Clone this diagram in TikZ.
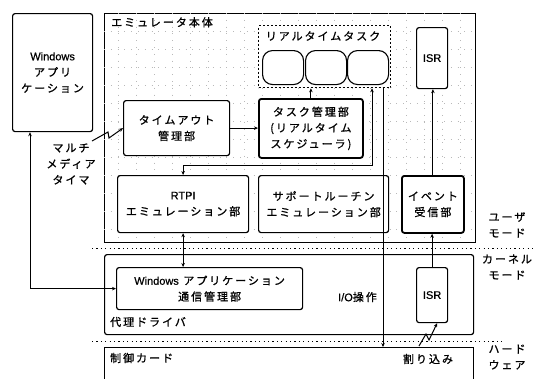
\documentclass[tikz,border=0pt]{standalone}
\usepackage{fontspec}
\setmainfont{Noto Sans CJK JP}[LetterSpace=18, FakeBold=1]
\newfontfamily\lat{Liberation Sans}[FakeBold=0.6]
\usetikzlibrary{arrows.meta}
\tikzset{
  box/.style={draw, line width=1.2pt, rounded corners=2.5pt, fill=white, align=center, anchor=north west, inner sep=1pt, font=\fontsize{11}{16}\selectfont},
  tbox/.style={box, line width=1.8pt},
  rt/.style={draw, line width=1.1pt, rounded corners=10pt, fill=white, anchor=north west, minimum width=41pt, minimum height=34pt},
  conn/.style={line width=0.9pt, -{Stealth[length=4pt,width=3.5pt]}},
  bconn/.style={line width=0.9pt, {Stealth[length=4pt,width=3.5pt]}-{Stealth[length=4pt,width=3.5pt]}},
  sep/.style={line width=1pt, dash pattern=on 1.2pt off 3.2pt},
  lbl/.style={align=center, font=\fontsize{11}{16}\selectfont, inner sep=0pt},
  gridl/.style={gray!55, line width=0.6pt, dash pattern=on 0.8pt off 6pt}
}
\begin{document}
\begin{tikzpicture}[x=1pt,y=-1pt]
\useasboundingbox (0,0) rectangle (534,378);
\clip (0,0) rectangle (534,378);
\fill[white] (0,0) rectangle (534,378);
% emulator main body
\node[draw, line width=1.1pt, anchor=north west, minimum width=371pt, minimum height=229pt, inner sep=0pt] (emu) at (104,13) {};
\begin{scope}
\clip (104,13) rectangle (475,242);
\foreach \yy in {31,49,67,85,103,121,139,157,175,193,211,229} \draw[gridl] (104,\yy) -- (475,\yy);
\foreach \xx in {118,136,154,172,190,208,226,244,262,280,298,316,334,352,370,388,406,424,442,460} \draw[gridl] (\xx,13) -- (\xx,242);
\end{scope}
\node[lbl, anchor=north west] (emulbl) at (111,17) {エミュレータ本体};
% windows application
\node[box, minimum width=80pt, minimum height=118pt] (winapp) at (12,13) {{\lat Windows}\\アプリ\\ケーション};
% real-time tasks
\node[draw, line width=1.3pt, dash pattern=on 2pt off 2pt, fill=white, anchor=north west, minimum width=132pt, minimum height=62pt, inner sep=0pt] (rttask) at (258,25) {};
\node[lbl] (rtlbl) at (323,36) {リアルタイムタスク};
\node[rt] (rt1) at (262,50) {};
\node[rt] (rt2) at (305,50) {};
\node[rt] (rt3) at (347,50) {};
% ISR top
\node[box, minimum width=31pt, minimum height=61pt] (isra) at (416,27) {\lat ISR};
% timeout
\node[box, minimum width=106pt, minimum height=55pt] (timeout) at (123,100) {タイムアウト\\管理部};
% task manager
\node[tbox, minimum width=104pt, minimum height=59pt] (taskmgr) at (258,98) {タスク管理部\\(リアルタイム\\スケジューラ)};
% lower boxes
\node[box, minimum width=131pt, minimum height=57pt] (rtpi) at (117,175) {{\lat RTPI}\\エミュレーション部};
\node[box, minimum width=130pt, minimum height=57pt] (support) at (258,175) {サポートルーチン\\エミュレーション部};
\node[tbox, minimum width=62pt, minimum height=57pt] (event) at (401,175) {イベント\\受信部};
% kernel
\node[draw, line width=1.2pt, rounded corners=2.5pt, anchor=north west, minimum width=369pt, minimum height=80pt, inner sep=0pt] (kernel) at (104,254) {};
\node[lbl, anchor=west] (proxy) at (110,322) {代理ドライバ};
\node[box, minimum width=186pt, minimum height=42pt] (comm) at (116,267) {{\lat Windows} アプリケーション\\通信管理部};
\node[box, minimum width=31pt, minimum height=55pt] (isrb) at (416,267) {\lat ISR};
% control card
\node[draw, line width=1.2pt, anchor=north west, minimum width=369pt, minimum height=60pt, inner sep=0pt] (card) at (104,347) {};
\node[lbl, anchor=west] (cardlbl) at (110,358) {制御カード};
% separators
\coordinate (s1a) at (92,248); \coordinate (s1b) at (534,248);
\coordinate (s2a) at (92,341); \coordinate (s2b) at (505,341);
\draw[sep] (s1a) -- (s1b);
\draw[sep] (s2a) -- (s2b);
% right labels
\node[lbl] (umode) at (507,225) {ユーザ\\モード};
\node[lbl] (kmode) at (507,267) {カーネル\\モード};
\node[lbl] (hw) at (507,357) {ハード\\ウェア};
% connectors
\draw[conn] (timeout.east) -- (timeout.east -| taskmgr.west);
\draw[conn] (taskmgr.north) -- (taskmgr.north |- rttask.south);
\coordinate (c1) at (372,165);
\draw[bconn] (rtpi.north) |- (c1) -- (c1 |- rttask.south);
\coordinate (io) at (383,0);
\draw[line width=0.9pt, -{Stealth[length=4pt,width=3.5pt]}] (io |- rttask.south) -- (io |- card.north);
\node[lbl, anchor=east] (iolbl) at (377,297) {{\lat I/O}操作};
\draw[conn] (event.north) -- (event.north |- isra.south);
\draw[conn] (isrb.north) -- (isrb.north |- event.south);
\draw[bconn] (rtpi.south) -- (rtpi.south |- comm.north);
\coordinate (w1) at (30,0);
\draw[bconn] (w1 |- winapp.south) |- (comm.west);
% multimedia timer
\coordinate (mt0) at (92,141);
\draw[line width=1pt, -{Stealth[length=4pt,width=3.5pt]}] (mt0) -- (108,132) -- (109,138) -- (timeout.west);
\node[lbl] (mtlbl) at (71,164) {マルチ\\メディア\\タイマ};
% interrupt
\coordinate (ir0) at (419,346);
\draw[line width=1pt, -{Stealth[length=4pt,width=3.5pt]}] (ir0) -- (426,334) -- (429,340) -- ([xshift=5pt]isrb.south);
\node[lbl] (irlbl) at (428,359) {割り込み};
\end{tikzpicture}
\end{document}
